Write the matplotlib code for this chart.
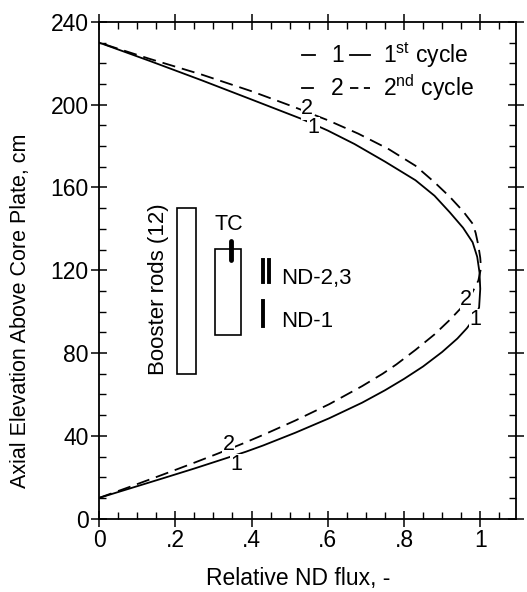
import matplotlib
matplotlib.use("Agg")
import matplotlib.pyplot as plt
from matplotlib.ticker import MultipleLocator, FixedLocator

plt.rcParams['font.family'] = ['Liberation Sans', 'DejaVu Sans']
plt.rcParams['mathtext.fontset'] = 'custom'
plt.rcParams['mathtext.rm'] = 'Liberation Sans'
plt.rcParams['mathtext.it'] = 'Liberation Sans'
plt.rcParams['lines.scale_dashes'] = False

# ---- data ----
cycle1_y = [10, 14.8, 19.5, 24.2, 28.8, 32.3, 35.3, 41.5, 48.5, 56, 62, 67.5, 73.5, 80.5, 87, 92,
            97, 102, 111, 119, 126.5, 133.5, 140.5, 148, 156, 163.5, 172.5, 181, 187.5, 193,
            202.5, 211.8, 221, 230]
cycle1_x = [0, 0.085, 0.168, 0.25, 0.327, 0.385, 0.43, 0.515, 0.604, 0.69, 0.75, 0.80, 0.85,
            0.90, 0.94, 0.965, 0.985, 0.997, 1.0, 0.998, 0.992, 0.98, 0.955, 0.92, 0.88, 0.83,
            0.75, 0.67, 0.6, 0.533, 0.40, 0.269, 0.135, 0]

cycle2_y = [10, 15.3, 21.3, 26.3, 31.3, 36.1, 40.8, 47.4, 55.3, 64, 70, 74.5, 81.5, 89, 96,
            102.8, 108.5, 115, 121, 126, 132, 138, 142.5, 148.5, 155.5, 162.5, 170.5, 178.5,
            186, 192.5, 199, 206.5, 214.5, 222.3, 230]
cycle2_x = [0, 0.08, 0.168, 0.24, 0.31, 0.375, 0.435, 0.515, 0.604, 0.69, 0.744, 0.78, 0.83,
            0.88, 0.92, 0.955, 0.977, 0.995, 1.002, 1.0, 0.995, 0.988, 0.98, 0.955, 0.92, 0.88,
            0.83, 0.76, 0.68, 0.6, 0.51, 0.40, 0.27, 0.13, 0]

xticks = [0, 0.2, 0.4, 0.6, 0.8, 1.0]
xticklabels = ['0', '.2', '.4', '.6', '.8', '1']
yticks = [0, 40, 80, 120, 160, 200, 240]

# components: (x_left, x_right, y_bottom, y_top)
booster_rect = (0.205, 0.255, 70, 150)
tc_rect = (0.305, 0.372, 88.5, 130.5)

fig = plt.figure(figsize=(5.27, 5.92), dpi=100)
ax = fig.add_axes([0.188, 0.124, 0.792, 0.839])

lw = 1.3
ax.plot(cycle1_x, cycle1_y, color='black', lw=lw, solid_joinstyle='round')
ax.plot(cycle2_x, cycle2_y, color='black', lw=lw, dashes=(9.5, 5), dash_joinstyle='round')

ax.set_xlim(0, 1.095)
ax.set_ylim(0, 240)

ax.xaxis.set_major_locator(FixedLocator(xticks))
ax.set_xticklabels(xticklabels)
ax.yaxis.set_major_locator(FixedLocator(yticks))
ax.xaxis.set_minor_locator(MultipleLocator(0.05))
ax.yaxis.set_minor_locator(MultipleLocator(10))
ax.tick_params(which='major', direction='inout', length=11, width=1.1,
               top=True, right=True, labelsize=16.5, pad=2)
ax.tick_params(which='minor', direction='in', length=5, width=1.0,
               top=True, right=True)
for s in ax.spines.values():
    s.set_linewidth(1.3)

ax.set_xlabel('Relative ND flux, -', fontsize=16.5)
ax.xaxis.set_label_coords(0.477, -0.097)
ax.set_ylabel('Axial Elevation Above Core Plate, cm', fontsize=15.5)
ax.yaxis.set_label_coords(-0.162, 0.418)

# curve labels
lbl = dict(fontsize=15.5, ha='center', va='center',
           bbox=dict(boxstyle='square,pad=0.02', fc='white', ec='none'))
ax.text(0.546, 198, '2', **lbl)
ax.text(0.562, 189, '1', **lbl)
ax.text(0.34, 36, '2', **lbl)
ax.text(0.36, 26, '1', **lbl)
ax.text(0.963, 106, '2', **lbl)
ax.text(0.987, 96, '1', **lbl)

# legend (drawn manually)
ax.plot([0.533, 0.567], [224, 224], color='black', lw=lw)
ax.plot([0.657, 0.712], [224, 224], color='black', lw=lw)
ax.text(0.625, 224, '1', fontsize=16.5, ha='center', va='center')
ax.text(0.744, 224, '1$^{\\rm st}$ cycle', fontsize=16.5, ha='left', va='center')
ax.plot([0.533, 0.56], [208, 208], color='black', lw=lw)
ax.plot([0.657, 0.712], [208, 208], color='black', lw=lw, dashes=(6, 4))
ax.text(0.625, 208, '2', fontsize=16.5, ha='center', va='center')
ax.text(0.744, 208, '2$^{\\rm nd}$ cycle', fontsize=16.5, ha='left', va='center')

# components
for (x0, x1, y0, y1) in (booster_rect, tc_rect):
    ax.add_patch(plt.Rectangle((x0, y0), x1 - x0, y1 - y0, fill=False,
                               ec='black', lw=1.2))
ax.text(0.155, 111, 'Booster rods (12)', rotation=90, fontsize=16,
        ha='center', va='center')
ax.text(0.34, 142, 'TC', fontsize=15.5, ha='center', va='center')
ax.plot([0.345, 0.345], [125, 134], color='black', lw=3.5, solid_capstyle='round')
ax.plot([0.431, 0.431], [114.5, 125], color='black', lw=2.8)
ax.plot([0.447, 0.447], [114.5, 125], color='black', lw=2.8)
ax.plot([0.431, 0.431], [93, 105], color='black', lw=2.8)
ax.text(0.478, 116, 'ND-2,3', fontsize=16, ha='left', va='center')
ax.text(0.478, 95, 'ND-1', fontsize=16, ha='left', va='center')

fig.savefig('out.png', dpi=100)
